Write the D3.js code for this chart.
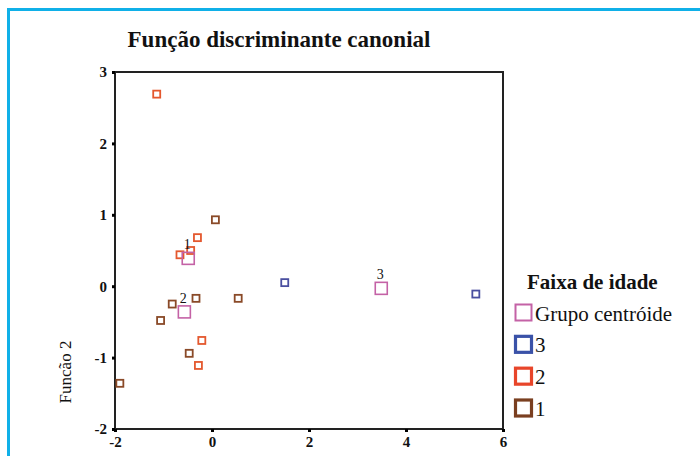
<!DOCTYPE html>
<html><head><meta charset="utf-8">
<script src="https://cdn.jsdelivr.net/npm/d3@7"></script>
<style>
body{margin:0;background:#fff;}
svg{display:block;}
text{font-family:"Liberation Serif","Times New Roman",Times,serif;fill:#111;}
</style></head>
<body>
<svg id="c" width="700" height="456"></svg>
<script>
const xTicks = [-2, 0, 2, 4, 6];
const yTicks = [-2, -1, 0, 1, 2, 3];
const groups = ["Grupo centróide", "3", "2", "1"];
const group1X = [0.07, -0.33, 0.54, -0.82, -1.06, -0.47, -1.90];
const group1Y = [0.93, -0.17, -0.17, -0.25, -0.48, -0.94, -1.36];
const group2X = [-1.14, -0.30, -0.44, -0.66, -0.21, -0.28];
const group2Y = [2.69, 0.68, 0.50, 0.44, -0.76, -1.11];
const group3X = [1.50, 5.44];
const group3Y = [0.05, -0.11];
const centroidLabels = ["1", "2", "3"];
const centroidX = [-0.49, -0.57, 3.49];
const centroidY = [0.39, -0.36, -0.03];

const FONT = "Liberation Serif, Times New Roman, serif";
const svg = d3.select("#c");
const x = d3.scaleLinear().domain([-2, 6]).range([115, 503]);
const y = d3.scaleLinear().domain([-2, 3]).range([429, 72]);

// outer cyan frame (top and left visible)
svg.append("path").attr("d", "M8.5,456 L8.5,9.5 L700,9.5")
  .attr("fill", "none").attr("stroke", "#10b0e8").attr("stroke-width", 3);

// title
svg.append("text").attr("x", 279).attr("y", 47).attr("text-anchor", "middle")
  .attr("font-family", FONT).attr("font-weight", "bold").attr("font-size", 23)
  .text("Função discriminante canonial");

// plot frame
svg.append("rect").attr("x", x(-2)).attr("y", y(3))
  .attr("width", x(6) - x(-2)).attr("height", y(-2) - y(3))
  .attr("fill", "#fff").attr("stroke", "#222").attr("stroke-width", 2);

// axes
const fmt = d => String(d);
const yAxis = d3.axisLeft(y).tickValues(yTicks).tickSize(3).tickPadding(5).tickFormat(fmt);
const gy = svg.append("g").attr("transform", `translate(${x(-2)},0)`).call(yAxis);
const xAxis = d3.axisBottom(x).tickValues(xTicks).tickSize(3).tickPadding(4).tickFormat(fmt);
const gx = svg.append("g").attr("transform", `translate(0,${y(-2)})`).call(xAxis);
[gx, gy].forEach(g => {
  g.attr("font-family", FONT);
  g.select(".domain").remove();
  g.selectAll(".tick line").attr("stroke", "#000").attr("stroke-width", 3);
  g.selectAll(".tick text").attr("font-family", FONT)
    .attr("font-size", 15).attr("font-weight", "bold").attr("fill", "#222");
});

// y axis title
svg.append("text").attr("transform", `translate(71,372) rotate(-90)`)
  .attr("font-family", FONT).attr("text-anchor", "middle").attr("font-size", 17).text("Funcão 2");

// points
const col1 = "#8a4a28", col2 = "#e4582e", col3 = "#4a4fa0", colC = "#c462a6";
function pts(xs, ys, color) {
  svg.append("g").selectAll("rect").data(xs.map((v, i) => [v, ys[i]])).join("rect")
    .attr("x", d => x(d[0]) - 3.5).attr("y", d => y(d[1]) - 3.5)
    .attr("width", 7).attr("height", 7)
    .attr("fill", "#fff").attr("stroke", color).attr("stroke-width", 1.8);
}
pts(group1X, group1Y, col1);
pts(group2X, group2Y, col2);
pts(group3X, group3Y, col3);

// centroids
const cdata = centroidX.map((v, i) => [v, centroidY[i], centroidLabels[i]]);
svg.append("g").selectAll("rect").data(cdata).join("rect")
  .attr("x", d => x(d[0]) - 6).attr("y", d => y(d[1]) - 6)
  .attr("width", 12).attr("height", 12)
  .attr("fill", "none").attr("stroke", colC).attr("stroke-width", 1.6);
svg.append("g").selectAll("text").data(cdata).join("text")
  .attr("x", d => x(d[0]) - 1).attr("y", d => y(d[1]) - 9)
  .attr("font-family", FONT).attr("text-anchor", "middle").attr("font-size", 14)
  .attr("fill", "#222").text(d => d[2]);

// legend
const lg = svg.append("g");
lg.append("text").attr("x", 527).attr("y", 289).attr("font-family", FONT)
  .attr("font-weight", "bold").attr("font-size", 21).text("Faixa de idade");
const legColors = [colC, "#3a52a8", "#e8452a", "#7a3f20"];
const legWidths = [2, 3.2, 3.2, 3.2];
const legY = d3.scalePoint().domain(groups).range([312.5, 408]);
groups.forEach((g, i) => {
  const cy = legY(g);
  lg.append("rect").attr("x", 515.5).attr("y", cy - 8).attr("width", 16).attr("height", 16)
    .attr("fill", "none").attr("stroke", legColors[i]).attr("stroke-width", legWidths[i]);
  lg.append("text").attr("x", 535).attr("y", cy + 8).attr("font-family", FONT)
    .attr("font-size", 21).text(g);
});
</script>
</body></html>
